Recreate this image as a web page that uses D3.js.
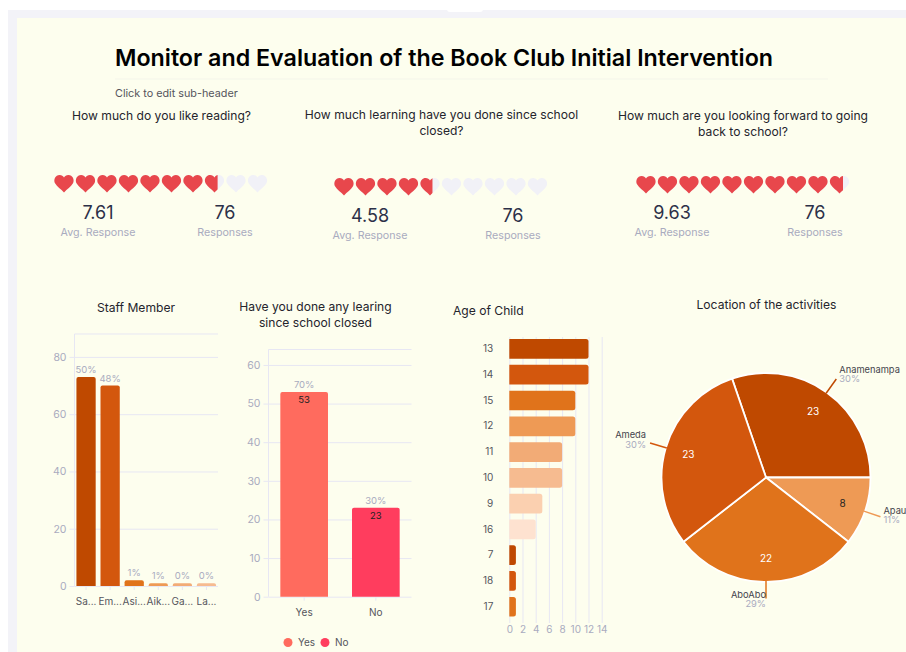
<!DOCTYPE html>
<html>
<head>
<meta charset="utf-8">
<script src="https://cdn.jsdelivr.net/npm/d3@7"></script>
<style>
  html, body { margin: 0; padding: 0; background: #fff; }
  svg { display: block; }
  text { font-family: Inter, "Noto Sans", sans-serif; }
  .domain { display: none; }
</style>
</head>
<body>
<script>
// Data
const titleText = 'Monitor and Evaluation of the Book Club Initial Intervention'
const subHeader = 'Click to edit sub-header'

const ratingQuestions = [
    ['How much do you like reading?'],
    ['How much learning have you done since school', 'closed?'],
    ['How much are you looking forward to going', 'back to school?'],
]
const ratingValues = [7.61, 4.58, 9.63]
const ratingResponses = [76, 76, 76]

const staffNames = ['Sa...', 'Em...', 'Asi...', 'Aik...', 'Ga...', 'La...']
const staffCounts = [73, 70, 2, 1, 1, 1]
const staffPercents = ['50%', '48%', '1%', '1%', '0%', '0%']

const learnNames = ['Yes', 'No']
const learnCounts = [53, 23]
const learnPercents = ['70%', '30%']

const ageNames = ['13', '14', '15', '12', '11', '10', '9', '16', '7', '18', '17']
const ageCounts = [12, 12, 10, 10, 8, 8, 5, 4, 1, 1, 1]

const placeNames = ['Anamenampa', 'Apau', 'AboAbo', 'Ameda']
const placeCounts = [23, 8, 22, 23]
const placePercents = ['30%', '11%', '29%', '30%']

// Colours
const oranges = ['#bf4900', '#d3570d', '#e0731b', '#ee9a55', '#f2ab76', '#f6bb90', '#fbd0b0', '#fee2d0']
const learnColors = ['#ff6b5e', '#ff3d5e']
const grey = '#a9abbf'
const gridColor = '#e7e7f3'
const darkText = '#24242c'

const svg = d3.select('body').append('svg')
    .attr('width', 906)
    .attr('height', 652)

// Page frame
svg.append('rect').attr('x', 8).attr('y', 10).attr('width', 898).attr('height', 642).attr('fill', '#f3f3f8')
svg.append('rect').attr('x', 17).attr('y', 18).attr('width', 889).attr('height', 634).attr('fill', '#fdfeee')
svg.append('rect').attr('x', 447).attr('y', 0).attr('width', 36).attr('height', 12).attr('rx', 3).attr('fill', '#fff')

function label(g, x, y, str, size, color, anchor, weight) {
    return g.append('text')
        .attr('x', x)
        .attr('y', y)
        .attr('text-anchor', anchor || 'middle')
        .attr('font-size', size)
        .attr('font-weight', weight || 400)
        .attr('fill', color)
        .text(str)
}

// Header
label(svg, 444, 66, titleText, 23.25, '#000', 'middle', 600)
svg.append('line').attr('x1', 115).attr('x2', 828).attr('y1', 79).attr('y2', 79).attr('stroke', '#f4f5ea')
label(svg, 115, 97, subHeader, 10.8, '#55555c', 'start')

// Heart ratings
const heartPath = 'M10 17.4 C7 14.4 3 11.6 1.2 8.6 C-1 4.8 1.5 0 5.6 0 C7.6 0 9.2 1 10 2.6 C10.8 1 12.4 0 14.4 0 C18.5 0 21 4.8 18.8 8.6 C17 11.6 13 14.4 10 17.4 Z'
const ratingBlocks = [
    { heartX: 54, heartY: 175, questionX: 161.5, questionY: 120, avgX: 98, countX: 225, statY: 219 },
    { heartX: 334, heartY: 178, questionX: 441.5, questionY: 119, avgX: 370, countX: 513, statY: 222 },
    { heartX: 636, heartY: 176, questionX: 743, questionY: 120, avgX: 672, countX: 815, statY: 219 },
]
const heartScale = d3.scaleLinear().domain([0, 10]).range([0, 215])

ratingBlocks.forEach((b, i) => {
    const g = svg.append('g')
    ratingQuestions[i].forEach((line, k) => label(g, b.questionX, b.questionY + k * 16, line, 12.1, darkText))

    const clipId = 'hearts' + i
    svg.append('clipPath').attr('id', clipId).append('rect')
        .attr('x', -2).attr('y', -2)
        .attr('width', heartScale(ratingValues[i]) + 2)
        .attr('height', 24)

    const row = g.append('g').attr('transform', `translate(${b.heartX},${b.heartY})`)
    const slots = d3.range(10)
    row.selectAll('.empty').data(slots).join('path')
        .attr('class', 'empty')
        .attr('d', heartPath)
        .attr('fill', '#f1f1f7')
        .attr('transform', d => `translate(${heartScale(d)},0)`)
    row.append('g').attr('clip-path', `url(#${clipId})`)
        .selectAll('path').data(slots).join('path')
        .attr('d', heartPath)
        .attr('fill', '#e8474c')
        .attr('transform', d => `translate(${heartScale(d)},0)`)

    label(g, b.avgX, b.statY, ratingValues[i].toFixed(2), 18, '#2c3048')
    label(g, b.avgX, b.statY + 17, 'Avg. Response', 10.7, grey)
    label(g, b.countX, b.statY, ratingResponses[i], 18, '#2c3048')
    label(g, b.countX, b.statY + 17, 'Responses', 10.7, grey)
})

// Bars with rounded ends only on the value side
function roundedUp(x, y, w, h, r) {
    r = Math.min(r, h, w / 2)
    return `M${x},${y + h}V${y + r}Q${x},${y} ${x + r},${y}H${x + w - r}Q${x + w},${y} ${x + w},${y + r}V${y + h}Z`
}
function roundedRight(x, y, w, h, r) {
    r = Math.min(r, w, h / 2)
    return `M${x},${y}H${x + w - r}Q${x + w},${y} ${x + w},${y + r}V${y + h - r}Q${x + w},${y + h} ${x + w - r},${y + h}H${x}Z`
}

function styleAxis(g, color, size) {
    g.selectAll('.tick line').attr('stroke', gridColor)
    g.selectAll('.tick text')
        .attr('fill', color)
        .attr('font-size', size)
        .attr('font-family', 'Inter, sans-serif')
}

function columnChart(cfg) {
    const g = svg.append('g')
    const x = d3.scaleBand().domain(cfg.names).range([cfg.left, cfg.right]).paddingInner(cfg.pad).paddingOuter(cfg.outer)
    const y = d3.scaleLinear().domain([0, cfg.top]).range([cfg.bottom, cfg.topY])

    // grid and value axis
    const yAxis = g.append('g')
        .attr('transform', `translate(${cfg.left},0)`)
        .call(d3.axisLeft(y).tickValues(cfg.ticks).tickSize(5).tickPadding(3))
    styleAxis(yAxis, grey, 10.5)
    yAxis.selectAll('.tick').append('line')
        .attr('x2', cfg.right - cfg.left)
        .attr('stroke', gridColor)
    g.append('line').attr('x1', cfg.left).attr('x2', cfg.right).attr('y1', cfg.topY).attr('y2', cfg.topY).attr('stroke', gridColor)
    g.append('line').attr('x1', cfg.left).attr('x2', cfg.left).attr('y1', cfg.topY).attr('y2', cfg.bottom).attr('stroke', gridColor)

    const xAxis = g.append('g')
        .attr('transform', `translate(0,${cfg.bottom})`)
        .call(d3.axisBottom(x).tickSize(4).tickPadding(8))
    styleAxis(xAxis, '#55555c', 10)

    g.selectAll('.bar').data(cfg.names).join('path')
        .attr('class', 'bar')
        .attr('fill', (d, i) => cfg.colors[i % cfg.colors.length])
        .attr('d', (d, i) => roundedUp(x(d), y(cfg.counts[i]), x.bandwidth(), cfg.bottom - y(cfg.counts[i]), 2))

    cfg.names.forEach((d, i) => {
        label(g, x(d) + x.bandwidth() / 2, y(cfg.counts[i]) - 4, cfg.percents[i], 9.5, grey)
        if (cfg.inner) label(g, x(d) + x.bandwidth() / 2, y(cfg.counts[i]) + 11, cfg.counts[i], 9.5, '#222')
    })
    return x
}

// Staff Member
label(svg, 136, 312, 'Staff Member', 12.1, darkText)
columnChart({
    names: staffNames, counts: staffCounts, percents: staffPercents, colors: oranges,
    left: 74.5, right: 218, bottom: 586, topY: 334, top: 88, ticks: [0, 20, 40, 60, 80],
    pad: 0.2, outer: 0.08, inner: false,
})

// Have you done any learning
label(svg, 315.5, 311, 'Have you done any learing', 12.1, darkText)
label(svg, 315.5, 327, 'since school closed', 12.1, darkText)
columnChart({
    names: learnNames, counts: learnCounts, percents: learnPercents, colors: learnColors,
    left: 268.5, right: 411.5, bottom: 596.7, topY: 349.5, top: 64, ticks: [0, 10, 20, 30, 40, 50, 60],
    pad: 0.335, outer: 0.165, inner: true,
})

// Legend
learnNames.forEach((d, i) => {
    const lx = 288 + i * 37
    svg.append('circle').attr('cx', lx).attr('cy', 642.5).attr('r', 4.5).attr('fill', learnColors[i])
    label(svg, lx + 10, 646, d, 10, '#55555c', 'start')
})

// Age of Child
label(svg, 453, 315, 'Age of Child', 12.1, darkText, 'start')
{
    const g = svg.append('g')
    const x = d3.scaleLinear().domain([0, 14]).range([509.3, 601.7])
    const y = d3.scaleBand().domain(ageNames).range([336.5, 619.2]).paddingInner(0.235).paddingOuter(0.1)
    const xAxis = g.append('g')
        .attr('transform', 'translate(0,619)')
        .call(d3.axisBottom(x).tickValues(d3.range(0, 15, 2)).tickSize(4).tickPadding(3))
    styleAxis(xAxis, grey, 10)
    xAxis.selectAll('.tick').append('line').attr('y2', -282).attr('stroke', gridColor)

    const yAxis = g.append('g')
        .attr('transform', 'translate(509.3,0)')
        .call(d3.axisLeft(y).tickSize(0).tickPadding(16))
    styleAxis(yAxis, '#55555c', 10)

    g.selectAll('.bar').data(ageNames).join('path')
        .attr('fill', (d, i) => oranges[i % oranges.length])
        .attr('d', (d, i) => roundedRight(x(0), y(d), x(ageCounts[i]) - x(0), y.bandwidth(), 2.5))
}

// Location pie
label(svg, 766.5, 309, 'Location of the activities', 12.1, darkText)
{
    const cx = 766, cy = 477.5, radius = 104.5
    const g = svg.append('g').attr('transform', `translate(${cx},${cy})`)
    const firstAngle = Math.PI / 2 - 2 * Math.PI * placeCounts[0] / d3.sum(placeCounts)
    const pie = d3.pie().sort(null).startAngle(firstAngle).endAngle(firstAngle + 2 * Math.PI)
    const arcs = pie(placeCounts)
    const colors = [oranges[0], oranges[3], oranges[2], oranges[1]]
    const arc = d3.arc().innerRadius(0).outerRadius(radius)
    const lineStart = d3.arc().innerRadius(radius - 1).outerRadius(radius - 1)
    const lineEnd = d3.arc().innerRadius(121).outerRadius(121)
    const inner = d3.arc().innerRadius(81).outerRadius(81)

    g.selectAll('.slice').data(arcs).join('path')
        .attr('d', arc)
        .attr('fill', (d, i) => colors[i])
        .attr('stroke', '#fff')
        .attr('stroke-width', 1.8)

    arcs.forEach((d, i) => {
        const mid = (d.startAngle + d.endAngle) / 2
        const [ex, ey] = lineEnd.centroid(d)
        const [sx, sy] = lineStart.centroid(d)
        g.append('line').attr('x1', sx).attr('y1', sy).attr('x2', ex).attr('y2', ey)
            .attr('stroke', colors[i]).attr('stroke-width', 1.5)

        const right = Math.sin(mid) > 0.05
        const lx = ex + (right ? 3 : Math.sin(mid) < -0.05 ? -4 : 0)
        const ly = ey - 4 - 3 * Math.cos(mid)
        const anchor = right ? 'start' : 'end'
        label(g, lx, ly, placeNames[i], 9.3, '#44444c', anchor)
        label(g, lx, ly + 9.5, placePercents[i], 9.3, grey, anchor)

        const [tx, ty] = inner.centroid(d)
        label(g, tx, ty + 3.5, placeCounts[i], 10, placeCounts[i] < 10 ? '#222' : '#fff')
    })
}
</script>
</body>
</html>
